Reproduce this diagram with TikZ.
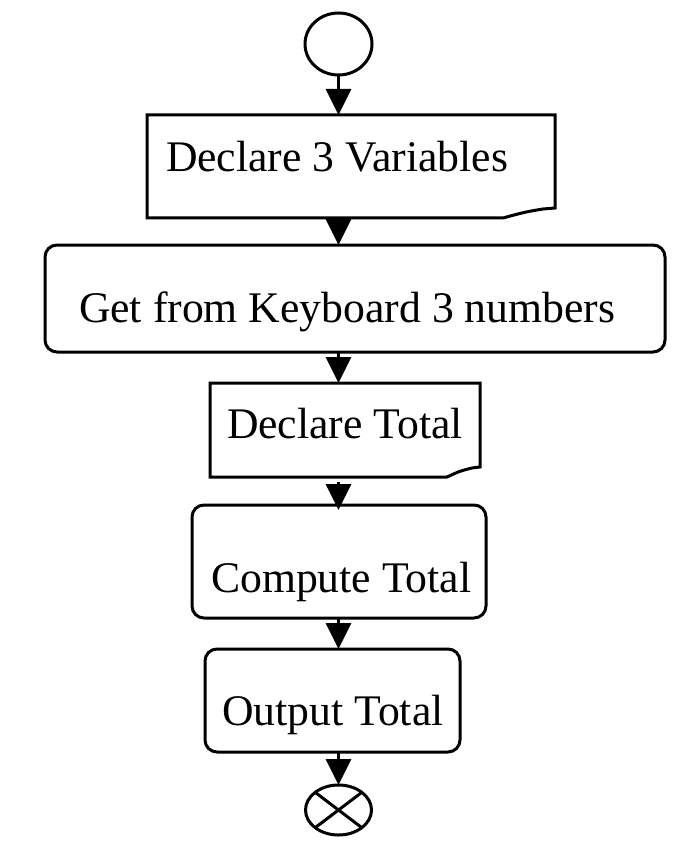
\documentclass[tikz,border=0pt]{standalone}
\usepackage{fontspec}
\setmainfont{Liberation Serif}
\usetikzlibrary{arrows.meta,shapes.geometric}
\begin{document}
\begin{tikzpicture}[x=1pt,y=-1pt,
  every node/.style={outer sep=0pt},
  rbox/.style={draw, line width=3pt, rounded corners=12pt, inner sep=0pt},
  fbox/.style={draw=none, inner sep=0pt},
  fold/.style={line width=3pt, line join=miter},
  lbl/.style={anchor=base west, inner sep=0pt, font=\fontsize{43.7}{50}\selectfont},
  flow/.style={line width=3pt, -{Triangle[length=26pt,width=25pt]}},
  term/.style={draw, line width=3pt, ellipse, inner sep=0pt}]
\useasboundingbox (0,0) rectangle (687,850);
% terminals
\node[term, minimum width=67pt, minimum height=62pt] (start) at (338.5,44) {};
\node[term, minimum width=66pt, minimum height=50pt] (stop) at (338.5,810) {};
\draw[line width=3pt] (stop.north west) -- (stop.south east);
\draw[line width=3pt] (stop.north east) -- (stop.south west);
% boxes
\node[fbox, minimum width=408pt, minimum height=103pt] (b1) at (351,166.5) {};
\draw[fold] (b1.south west) -- (b1.north west) -- (b1.north east) -- ([yshift=10pt]b1.south east)
  -- ([xshift=-12pt,yshift=9pt]b1.south east) .. controls ([xshift=-30pt,yshift=6pt]b1.south east) .. ([xshift=-52pt]b1.south east) -- cycle;
\node[rbox, minimum width=620pt, minimum height=107pt] (b2) at (355,298.5) {};
\node[fbox, minimum width=270pt, minimum height=94pt] (b3) at (345,430) {};
\draw[fold] (b3.south west) -- (b3.north west) -- (b3.north east) -- ([yshift=10pt]b3.south east)
  -- ([xshift=-8pt,yshift=9pt]b3.south east) .. controls ([xshift=-20pt,yshift=6pt]b3.south east) .. ([xshift=-33pt]b3.south east) -- cycle;
\node[rbox, minimum width=294pt, minimum height=113pt] (b4) at (339,561.5) {};
\node[rbox, minimum width=255pt, minimum height=103pt] (b5) at (332.5,700.5) {};
% labels
\node[lbl] (t1) at (166,172) {Declare 3 Variables};
\node[lbl] (t2) at (79,322) {Get from Keyboard 3 numbers};
\node[lbl] (t3) at (227,438) {Declare Total};
\node[lbl] (t4) at (211,592) {Compute Total};
\node[lbl] (t5) at (222,725) {Output Total};
% connectors
\draw[flow] (start.south) -- (start.south |- b1.north);
\draw[flow] (b1.south -| start.south) -- (b2.north -| start.south);
\draw[flow] (b2.south -| start.south) -- (b3.north -| start.south);
\draw[flow] ([yshift=-5pt]b3.south -| start.south) -- ([yshift=-5pt]b4.north -| start.south);
\draw[flow] (b4.south -| start.south) -- (b5.north -| start.south);
\draw[flow] (b5.south -| start.south) -- (stop.north);
\end{tikzpicture}
\end{document}
